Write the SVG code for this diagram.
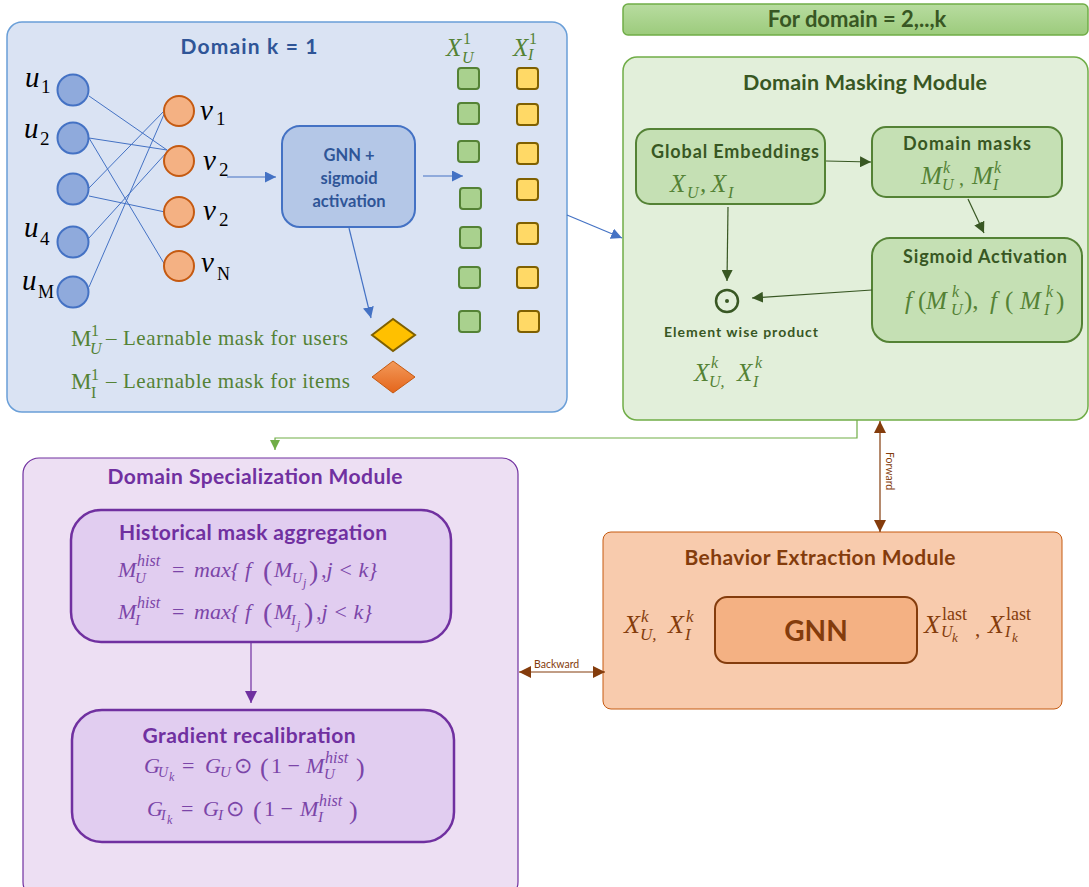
<svg xmlns="http://www.w3.org/2000/svg" width="1089" height="887" viewBox="0 0 1089 887">
<style>
.m{font-family:"Liberation Serif",serif;font-style:italic}
.r{font-family:"Liberation Serif",serif;font-style:normal}
.t{font-family:Lato,"Liberation Sans",sans-serif;font-weight:bold;text-anchor:middle}
.ed{stroke:#4472c4;stroke-width:1}
.un{fill:#8faadc;stroke:#4472c4;stroke-width:2}
.vn{fill:#f4b183;stroke:#c55a11;stroke-width:2}
.gs{fill:#a9d18e;stroke:#548235;stroke-width:2}
.ys{fill:#ffd966;stroke:#7f6000;stroke-width:2}
.g{fill:#548235}
.p{fill:#7b45a8}
.br{fill:#843c0c}
</style>
<defs>
<marker id="ab" viewBox="0 0 10 10" refX="10" refY="5" markerWidth="11" markerHeight="11" markerUnits="userSpaceOnUse" orient="auto-start-reverse"><path d="M0,0 L10,5 L0,10 z" fill="#4472c4"/></marker>
<marker id="ag" viewBox="0 0 10 10" refX="10" refY="5" markerWidth="11" markerHeight="11" markerUnits="userSpaceOnUse" orient="auto-start-reverse"><path d="M0,0 L10,5 L0,10 z" fill="#385723"/></marker>
<marker id="alg" viewBox="0 0 10 10" refX="10" refY="5" markerWidth="10" markerHeight="10" markerUnits="userSpaceOnUse" orient="auto-start-reverse"><path d="M0,0 L10,5 L0,10 z" fill="#70ad47"/></marker>
<marker id="ap" viewBox="0 0 10 10" refX="10" refY="5" markerWidth="12" markerHeight="12" markerUnits="userSpaceOnUse" orient="auto-start-reverse"><path d="M0,0 L10,5 L0,10 z" fill="#7030a0"/></marker>
<marker id="abr" viewBox="0 0 10 10" refX="10" refY="5" markerWidth="12" markerHeight="12" markerUnits="userSpaceOnUse" orient="auto-start-reverse"><path d="M0,0 L10,5 L0,10 z" fill="#843c0c"/></marker>
<linearGradient id="gbar" x1="0" y1="0" x2="0" y2="1"><stop offset="0" stop-color="#b8dca0"/><stop offset="1" stop-color="#9ccb7c"/></linearGradient>
<linearGradient id="gor" x1="0" y1="0" x2="0" y2="1"><stop offset="0" stop-color="#f39a5a"/><stop offset="1" stop-color="#e4651b"/></linearGradient>
</defs>

<g id="domain1">
<rect x="7" y="22" width="560" height="390" rx="15" fill="#dae3f3" stroke="#6a9fd8" stroke-width="1.5"/>
<text class="t" x="249" y="54" font-size="21" fill="#2f5597" textLength="137">Domain k = 1</text>
</g>

<g id="graph-edges">
<line class="ed" x1="89" y1="96" x2="167" y2="150"/>
<line class="ed" x1="89" y1="138" x2="167" y2="150"/>
<line class="ed" x1="89" y1="138" x2="165" y2="265"/>
<line class="ed" x1="89" y1="188" x2="165" y2="110"/>
<line class="ed" x1="89" y1="196" x2="165" y2="212"/>
<line class="ed" x1="89" y1="238" x2="167" y2="152"/>
<line class="ed" x1="89" y1="287" x2="165" y2="112"/>
</g>

<g id="users">
<circle class="un" cx="73" cy="90" r="15.5"/>
<circle class="un" cx="73" cy="138" r="15.5"/>
<circle class="un" cx="73" cy="189" r="15.5"/>
<circle class="un" cx="73" cy="242" r="15.5"/>
<circle class="un" cx="73" cy="292" r="15.5"/>
<text class="m" x="25" y="87" font-size="29" fill="#000">u</text><text class="r" x="41" y="93" font-size="19">1</text>
<text class="m" x="24" y="138" font-size="29" fill="#000">u</text><text class="r" x="40" y="145" font-size="19">2</text>
<text class="m" x="24" y="237" font-size="29" fill="#000">u</text><text class="r" x="40" y="245" font-size="19">4</text>
<text class="m" x="22" y="290" font-size="29" fill="#000">u</text><text class="r" x="38" y="298" font-size="18">M</text>
</g>

<g id="items">
<circle class="vn" cx="179" cy="111" r="15"/>
<circle class="vn" cx="179" cy="161" r="15"/>
<circle class="vn" cx="179" cy="212" r="15"/>
<circle class="vn" cx="179" cy="266" r="15"/>
<text class="m" x="200" y="120" font-size="29">v</text><text class="r" x="216" y="125" font-size="19">1</text>
<text class="m" x="203" y="170" font-size="29">v</text><text class="r" x="219" y="176" font-size="19">2</text>
<text class="m" x="203" y="220" font-size="29">v</text><text class="r" x="219" y="226" font-size="19">2</text>
<text class="m" x="201" y="272" font-size="29">v</text><text class="r" x="217" y="280" font-size="18">N</text>
</g>

<g id="gnn-sigmoid">
<rect x="282" y="126" width="133" height="101" rx="18" fill="#b4c7e7" stroke="#4472c4" stroke-width="2"/>
<text class="t" x="349" y="161" font-size="16.5" fill="#2f5597">GNN +</text>
<text class="t" x="349" y="184" font-size="16.5" fill="#2f5597">sigmoid</text>
<text class="t" x="349" y="207" font-size="16.5" fill="#2f5597">activation</text>
</g>

<g id="embeddings">
<text class="m g" x="446" y="56" font-size="25">X</text><text class="r g" x="463" y="44" font-size="16">1</text><text class="m g" x="462" y="63" font-size="16">U</text>
<text class="m g" x="513" y="56" font-size="25">X</text><text class="r g" x="529" y="44" font-size="16">1</text><text class="m g" x="528" y="60" font-size="16">I</text>
<rect class="gs" x="458" y="68" width="21" height="21" rx="3"/>
<rect class="gs" x="458" y="103" width="21" height="21" rx="3"/>
<rect class="gs" x="458" y="141" width="21" height="21" rx="3"/>
<rect class="gs" x="460" y="188" width="21" height="21" rx="3"/>
<rect class="gs" x="460" y="227" width="21" height="21" rx="3"/>
<rect class="gs" x="459" y="267" width="21" height="21" rx="3"/>
<rect class="gs" x="459" y="311" width="21" height="21" rx="3"/>
<rect class="ys" x="517" y="68" width="21" height="21" rx="3"/>
<rect class="ys" x="517" y="104" width="21" height="21" rx="3"/>
<rect class="ys" x="517" y="143" width="21" height="21" rx="3"/>
<rect class="ys" x="517" y="179" width="21" height="21" rx="3"/>
<rect class="ys" x="517" y="223" width="21" height="21" rx="3"/>
<rect class="ys" x="517" y="267" width="21" height="21" rx="3"/>
<rect class="ys" x="518" y="311" width="21" height="21" rx="3"/>
</g>

<g id="legend">
<path d="M372,335 L393,319 L415,335 L393,351 Z" fill="#ffc000" stroke="#7f6000" stroke-width="2"/>
<path d="M372,377 L393,361 L415,377 L393,393 Z" fill="url(#gor)" stroke="#c55a11" stroke-width="1"/>
<text class="r g" x="71" y="346" font-size="23">M</text><text class="r g" x="91" y="336" font-size="16">1</text><text class="m g" x="90" y="354" font-size="16">U</text>
<text class="r g" x="106" y="345" font-size="21" textLength="242">– Learnable mask for users</text>
<text class="r g" x="71" y="389" font-size="23">M</text><text class="r g" x="91" y="380" font-size="16">1</text><text class="r g" x="91" y="398" font-size="16">I</text>
<text class="r g" x="106" y="388" font-size="21" textLength="244">– Learnable mask for items</text>
</g>

<g id="for-domain">
<rect x="623" y="4" width="465" height="31" rx="5" fill="url(#gbar)" stroke="#70ad47" stroke-width="1.5"/>
<text class="t" x="857" y="27" font-size="22" fill="#385723">For domain = 2,..,k</text>
</g>

<g id="masking-module">
<rect x="623" y="57" width="465" height="363" rx="14" fill="#e2efda" stroke="#70ad47" stroke-width="1.5"/>
<text class="t" x="865" y="90" font-size="21.5" fill="#385723" textLength="244">Domain Masking Module</text>
</g>

<g id="global-emb">
<rect x="636" y="129" width="189" height="75" rx="14" fill="#c5e0b4" stroke="#548235" stroke-width="2"/>
<text class="t" x="735" y="158" font-size="18" fill="#385723" textLength="168">Global Embeddings</text>
<text class="m g" x="670" y="192" font-size="25">X</text><text class="m g" x="687" y="198" font-size="16">U</text><text class="m g" x="700" y="192" font-size="25">,</text>
<text class="m g" x="711" y="192" font-size="25">X</text><text class="m g" x="728" y="198" font-size="16">I</text>
</g>

<g id="domain-masks">
<rect x="872" y="127" width="190" height="70" rx="14" fill="#c5e0b4" stroke="#548235" stroke-width="2"/>
<text class="t" x="967" y="150" font-size="18" fill="#385723" textLength="128">Domain masks</text>
<text class="m g" x="921" y="184" font-size="25">M</text><text class="m g" x="943" y="173" font-size="16">k</text><text class="m g" x="942" y="190" font-size="16">U</text>
<text class="r g" x="959" y="185" font-size="20">,</text>
<text class="m g" x="972" y="184" font-size="25">M</text><text class="m g" x="994" y="173" font-size="16">k</text><text class="m g" x="993" y="190" font-size="16">I</text>
</g>

<g id="sigmoid-act">
<rect x="872" y="238" width="210" height="104" rx="18" fill="#c5e0b4" stroke="#548235" stroke-width="2"/>
<text class="t" x="985" y="263" font-size="18" fill="#385723" textLength="164">Sigmoid Activation</text>
<text class="m g" x="905" y="309" font-size="25">f</text><text class="r g" x="918" y="309" font-size="25">(</text>
<text class="m g" x="926" y="309" font-size="25">M</text><text class="m g" x="952" y="297" font-size="16">k</text><text class="m g" x="951" y="315" font-size="16">U</text>
<text class="r g" x="964" y="309" font-size="25">),</text>
<text class="m g" x="990" y="309" font-size="25">f</text><text class="r g" x="1005" y="309" font-size="25">(</text>
<text class="m g" x="1020" y="309" font-size="25">M</text><text class="m g" x="1046" y="297" font-size="16">k</text><text class="m g" x="1044" y="315" font-size="16">I</text>
<text class="r g" x="1056" y="309" font-size="25">)</text>
</g>

<g id="product">
<circle cx="727" cy="301" r="11" fill="none" stroke="#385723" stroke-width="2.5"/>
<circle cx="727" cy="301" r="2" fill="#385723"/>
<text class="t" x="741" y="337" font-size="14" fill="#385723" textLength="154">Element wise product</text>
<text class="m g" x="694" y="381" font-size="25">X</text><text class="m g" x="711" y="368" font-size="16">k</text><text class="m g" x="709" y="387" font-size="16">U,</text>
<text class="m g" x="737" y="381" font-size="25">X</text><text class="m g" x="755" y="368" font-size="16">k</text><text class="m g" x="753" y="387" font-size="16">I</text>
</g>

<g id="specialization">
<rect x="23" y="458" width="495" height="440" rx="16" fill="#eddff3" stroke="#7030a0" stroke-width="1.2"/>
<text class="t" x="255" y="484" font-size="21" fill="#7030a0" textLength="295">Domain Specialization Module</text>
</g>

<g id="hist-agg">
<rect x="71" y="510" width="380" height="132" rx="30" fill="#e1cdf0" stroke="#7030a0" stroke-width="2.5"/>
<text class="t" x="253" y="540" font-size="21" fill="#7030a0" textLength="268">Historical mask aggregation</text>
<text class="m p" x="118" y="577" font-size="22">M</text><text class="m p" x="137" y="566" font-size="16">hist</text><text class="m p" x="135" y="583" font-size="15">U</text>
<text class="r p" x="172" y="577" font-size="22">=</text><text class="m p" x="194" y="577" font-size="22">max{ f</text>
<text class="r p" x="263" y="580" font-size="28">(</text><text class="m p" x="274" y="577" font-size="22">M</text><text class="m p" x="292" y="583" font-size="14">U</text><text class="m p" x="303" y="587" font-size="12">j</text><text class="r p" x="309" y="580" font-size="28">)</text>
<text class="m p" x="321" y="577" font-size="22">,j &lt; k}</text>
<text class="m p" x="118" y="619" font-size="22">M</text><text class="m p" x="137" y="608" font-size="16">hist</text><text class="m p" x="135" y="625" font-size="15">I</text>
<text class="r p" x="172" y="619" font-size="22">=</text><text class="m p" x="194" y="619" font-size="22">max{ f</text>
<text class="r p" x="263" y="622" font-size="28">(</text><text class="m p" x="274" y="619" font-size="22">M</text><text class="m p" x="291" y="625" font-size="14">I</text><text class="m p" x="297" y="629" font-size="12">j</text><text class="r p" x="304" y="622" font-size="28">)</text>
<text class="m p" x="316" y="619" font-size="22">,j &lt; k}</text>
</g>

<g id="grad-recal">
<rect x="72" y="710" width="382" height="132" rx="30" fill="#e1cdf0" stroke="#7030a0" stroke-width="2.5"/>
<text class="t" x="249" y="743" font-size="21" fill="#7030a0" textLength="213">Gradient recalibration</text>
<text class="m p" x="144" y="773" font-size="22">G</text><text class="m p" x="158" y="777" font-size="14">U</text><text class="m p" x="169" y="781" font-size="12">k</text>
<text class="r p" x="182" y="773" font-size="22">=</text><text class="m p" x="205" y="773" font-size="22">G</text><text class="m p" x="220" y="777" font-size="15">U</text>
<text class="r p" x="234" y="773" font-size="22">⊙</text><text class="r p" x="260" y="776" font-size="26">(</text><text class="r p" x="271" y="773" font-size="22">1 −</text>
<text class="m p" x="306" y="773" font-size="22">M</text><text class="m p" x="325" y="763" font-size="16">hist</text><text class="m p" x="324" y="779" font-size="15">U</text><text class="r p" x="356" y="776" font-size="26">)</text>
<text class="m p" x="147" y="816" font-size="22">G</text><text class="m p" x="161" y="820" font-size="14">I</text><text class="m p" x="167" y="824" font-size="12">k</text>
<text class="r p" x="181" y="816" font-size="22">=</text><text class="m p" x="203" y="816" font-size="22">G</text><text class="m p" x="218" y="820" font-size="15">I</text>
<text class="r p" x="226" y="816" font-size="22">⊙</text><text class="r p" x="253" y="819" font-size="26">(</text><text class="r p" x="264" y="816" font-size="22">1 −</text>
<text class="m p" x="300" y="816" font-size="22">M</text><text class="m p" x="319" y="806" font-size="16">hist</text><text class="m p" x="318" y="822" font-size="15">I</text><text class="r p" x="349" y="819" font-size="26">)</text>
</g>

<g id="behavior">
<rect x="603" y="532" width="459" height="177" rx="8" fill="#f8cbad" stroke="#c55a11" stroke-width="1"/>
<text class="t" x="820" y="565" font-size="21" fill="#843c0c" textLength="271">Behavior Extraction Module</text>
<rect x="715" y="597" width="202" height="66" rx="12" fill="#f4b183" stroke="#843c0c" stroke-width="2"/>
<text class="t" x="816" y="641" font-size="28" fill="#843c0c">GNN</text>
<text class="m br" x="624" y="633" font-size="26">X</text><text class="m br" x="641" y="622" font-size="17">k</text><text class="m br" x="640" y="640" font-size="17">U,</text>
<text class="m br" x="668" y="633" font-size="26">X</text><text class="m br" x="686" y="622" font-size="17">k</text><text class="m br" x="685" y="640" font-size="17">I</text>
<text class="m br" x="924" y="633" font-size="26">X</text><text class="r br" x="942" y="620" font-size="18">last</text><text class="m br" x="941" y="637" font-size="16">U</text><text class="m br" x="952" y="642" font-size="13">k</text>
<text class="r br" x="975" y="636" font-size="21">,</text>
<text class="m br" x="988" y="633" font-size="26">X</text><text class="r br" x="1006" y="620" font-size="18">last</text><text class="m br" x="1005" y="637" font-size="16">I</text><text class="m br" x="1012" y="642" font-size="13">k</text>
</g>

<g id="connectors">
<line x1="227" y1="177" x2="276" y2="177" stroke="#4472c4" stroke-width="1.2" marker-end="url(#ab)"/>
<line x1="423" y1="176" x2="463" y2="176" stroke="#4472c4" stroke-width="1.2" marker-end="url(#ab)"/>
<line x1="349" y1="228" x2="371" y2="318" stroke="#4472c4" stroke-width="1.2" marker-end="url(#ab)"/>
<line x1="567" y1="215" x2="622" y2="238" stroke="#4472c4" stroke-width="1.2" marker-end="url(#ab)"/>
<line x1="826" y1="161" x2="871" y2="162" stroke="#385723" stroke-width="1.2" marker-end="url(#ag)"/>
<line x1="968" y1="199" x2="984" y2="233" stroke="#385723" stroke-width="1.2" marker-end="url(#ag)"/>
<line x1="872" y1="290" x2="752" y2="298" stroke="#385723" stroke-width="1.2" marker-end="url(#ag)"/>
<line x1="728" y1="207" x2="727" y2="281" stroke="#385723" stroke-width="1.2" marker-end="url(#ag)"/>
<polyline points="857,420 857,438 275,438 275,450" fill="none" stroke="#70ad47" stroke-width="1.2" marker-end="url(#alg)"/>
<line x1="880" y1="421" x2="880" y2="532" stroke="#843c0c" stroke-width="1.2" marker-start="url(#abr)" marker-end="url(#abr)"/>
<text x="0" y="0" transform="translate(886,452) rotate(90)" font-family="Lato,'Liberation Sans',sans-serif" font-size="10.5" fill="#843c0c">Forward</text>
<line x1="519" y1="672" x2="605" y2="672" stroke="#843c0c" stroke-width="1.2" marker-start="url(#abr)" marker-end="url(#abr)"/>
<text x="534" y="668" font-family="Lato,'Liberation Sans',sans-serif" font-size="10.5" fill="#843c0c">Backward</text>
<line x1="251" y1="643" x2="251" y2="703" stroke="#7030a0" stroke-width="1.2" marker-end="url(#ap)"/>
</g>
</svg>
